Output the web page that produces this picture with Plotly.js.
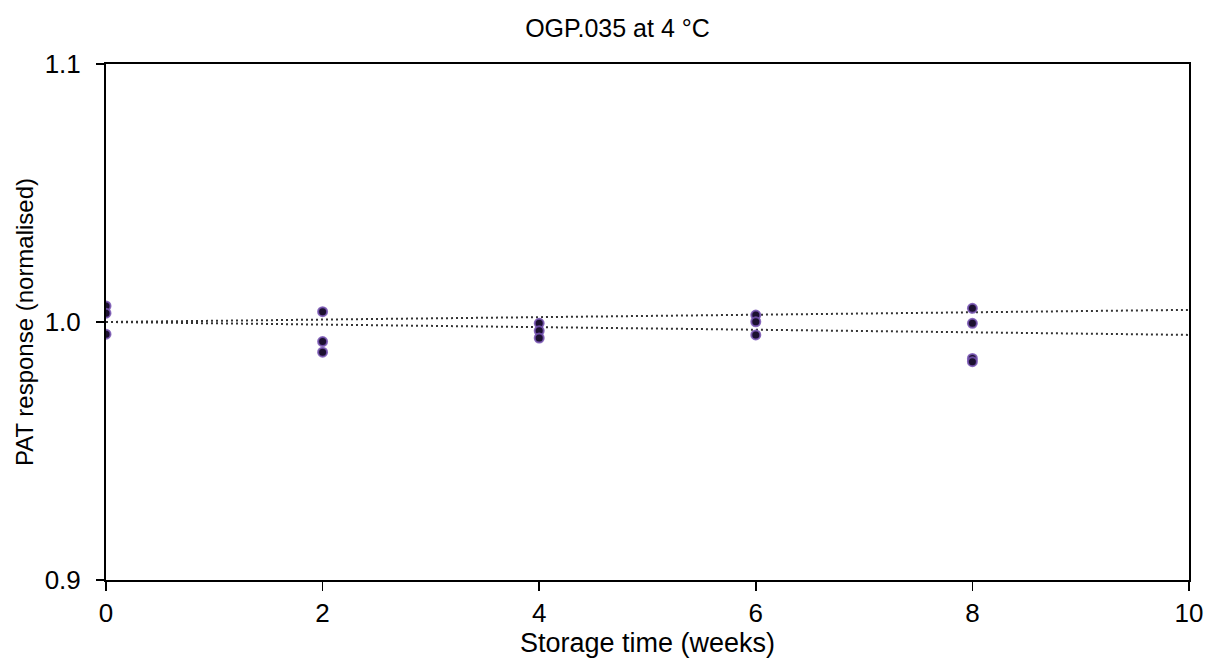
<!DOCTYPE html>
<html>
<head>
<meta charset="utf-8">
<script src="https://cdn.plot.ly/plotly-3.0.1.min.js"></script>
<style>html,body{margin:0;padding:0;background:#fff;}#chart{width:1206px;height:662px;}</style>
</head>
<body>
<div id="chart"></div>
<script>
// Storage time (weeks) of each replicate measurement
const weeks = [0, 0, 0, 2, 2, 2, 4, 4, 4, 6, 6, 6, 8, 8, 8, 8];
// Normalised PAT response
const response = [1.0062, 1.0034, 0.9953, 1.0040, 0.9924, 0.9883, 0.9995, 0.9966, 0.9938, 1.0027, 1.0001, 0.9950, 1.0053, 0.9995, 0.9859, 0.9846];
// Upper and lower dotted limit lines
const limitX = [0, 10];
const upperY = [1.0000, 1.0047];
const lowerY = [1.0000, 0.9950];
const xTicks = [0, 2, 4, 6, 8, 10];
const yTicks = [0.9, 1.0, 1.1];

const lineStyle = {color: '#333333', width: 2, dash: '2px,3px'};
const data = [
  {x: limitX, y: upperY, mode: 'lines', line: lineStyle, hoverinfo: 'skip', showlegend: false},
  {x: limitX, y: lowerY, mode: 'lines', line: lineStyle, hoverinfo: 'skip', showlegend: false},
  {x: weeks, y: response, mode: 'markers', showlegend: false,
   marker: {size: 9, color: '#1c1030', line: {color: 'rgba(120,85,180,0.85)', width: 2}}}
];
const ff = 'Liberation Sans, Arial, sans-serif';
const layout = {
  width: 1206, height: 662,
  margin: {l: 106, r: 17, t: 64, b: 82},
  paper_bgcolor: '#fff', plot_bgcolor: '#fff',
  font: {family: ff, color: '#000'},
  title: {text: 'OGP.035 at 4 °C', font: {family: ff, size: 25, color: '#000'},
          xref: 'container', x: 0.512, xanchor: 'center', yref: 'container', y: 0.958, yanchor: 'middle'},
  xaxis: {range: [0, 10], tickvals: xTicks, ticktext: xTicks.map(String),
          showgrid: false, zeroline: false, showline: true, linecolor: '#000', linewidth: 2, mirror: true,
          ticks: 'outside', ticklen: 9, tickwidth: 1.5, tickcolor: '#000',
          tickfont: {size: 26, family: ff, color: '#000'},
          title: {text: 'Storage time (weeks)', font: {size: 27, family: ff, color: '#000'}, standoff: 1}},
  yaxis: {range: [0.9, 1.1], tickvals: yTicks, ticktext: yTicks.map(v => v.toFixed(1)),
          showgrid: false, zeroline: false, showline: true, linecolor: '#000', linewidth: 2, mirror: true,
          ticks: 'outside', ticklen: 8, tickwidth: 1.5, tickcolor: '#000',
          tickfont: {size: 26, family: ff, color: '#000'}, ticklabelstandoff: 10,
          title: {text: 'PAT response (normalised)', font: {size: 24, family: ff, color: '#000'}, standoff: 4}}
};
Plotly.newPlot('chart', data, layout, {displayModeBar: false, staticPlot: true});
</script>
</body>
</html>
